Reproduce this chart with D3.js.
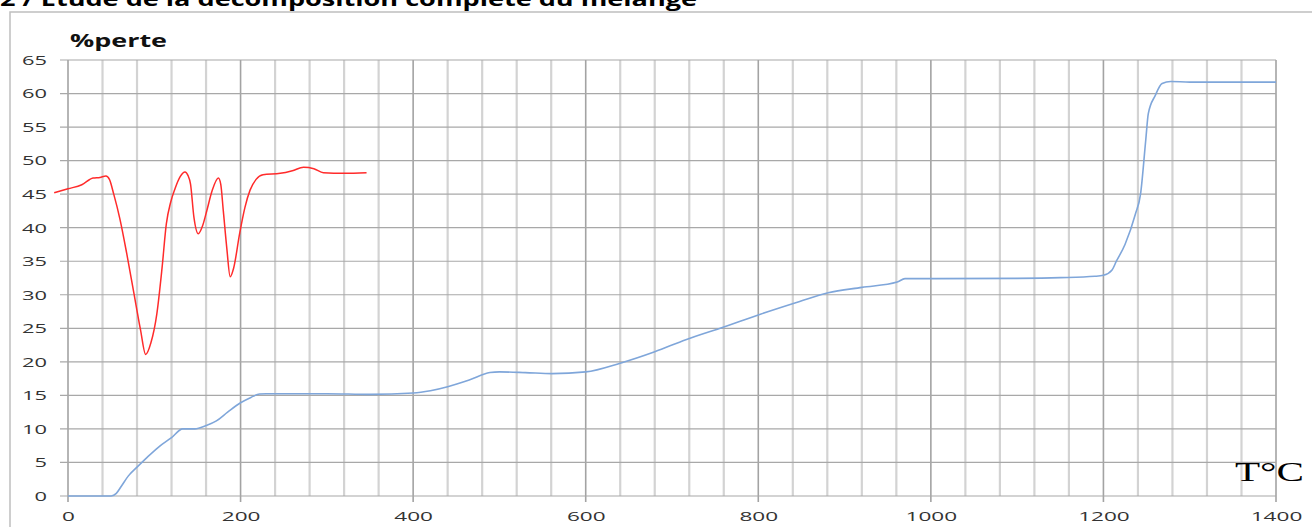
<!DOCTYPE html>
<html>
<head>
<meta charset="utf-8">
<script src="https://cdn.jsdelivr.net/npm/d3@7"></script>
<style>
  html, body { margin: 0; padding: 0; background: #fff; }
  svg { display: block; }
</style>
</head>
<body>
<script>
// ---- Data ----
const titleText = "2 / Etude de la décomposition complète du mélange";
const yLabel = "%perte";
const xLabel = "T°C";
const xTicks = [0, 200, 400, 600, 800, 1000, 1200, 1400];
const yTicks = [0, 5, 10, 15, 20, 25, 30, 35, 40, 45, 50, 55, 60, 65];
const xMinorStep = 40;

// blue: mass loss curve
const blueT = [0, 50, 56, 62, 70, 80, 92, 105, 120, 133, 147, 160, 172, 185, 200, 212, 222, 230, 300, 350, 400, 420, 440, 465, 489, 500, 530, 561, 600, 640, 680, 716, 760, 800, 848, 881, 920, 961, 970, 1000, 1100, 1150, 1190, 1200, 1210, 1215, 1225, 1237, 1243, 1249, 1252, 1260, 1268, 1278, 1300, 1400];
const blueV = [0, 0, 0.4, 1.5, 3.0, 4.3, 5.8, 7.3, 8.7, 10, 10, 10.5, 11.2, 12.5, 13.9, 14.7, 15.2, 15.25, 15.25, 15.15, 15.35, 15.7, 16.3, 17.3, 18.4, 18.5, 18.4, 18.25, 18.5, 19.8, 21.5, 23.3, 25.2, 27.0, 29.0, 30.3, 31.1, 31.9, 32.4, 32.4, 32.45, 32.55, 32.75, 32.9, 33.7, 35, 37.5, 42, 45, 53, 57, 59.7, 61.5, 61.8, 61.7, 61.7];

// red: derivative curve
const redT = [-16, 0, 16, 29, 37, 44, 48, 53, 60, 68, 76, 84, 90, 96, 103, 109, 114, 119, 124, 130, 135.6, 139, 142, 146, 151, 156, 161, 167, 174.3, 177, 180, 184, 188, 192, 199, 205, 211, 218, 226, 246, 260, 273, 285, 296, 320, 346];
const redV = [45.2, 45.8, 46.4, 47.4, 47.5, 47.7, 47.2, 45.0, 41.4, 36.2, 30.5, 24.8, 21.1, 22.8, 27.2, 34, 40.6, 43.8, 45.8, 47.6, 48.3, 47.8, 46.5, 41.5, 39.1, 40.3, 42.6, 45.5, 47.4, 46.5, 42.5, 37, 32.7, 34, 39.2, 43, 45.6, 47.2, 47.9, 48.1, 48.5, 49.0, 48.8, 48.2, 48.1, 48.2];

// ---- Chart ----
const W = 1312, H = 527;
const svg = d3.select("body").append("svg").attr("width", W).attr("height", H);

const x = d3.scaleLinear().domain([0, 1400]).range([68, 1276]);
const y = d3.scaleLinear().domain([0, 65]).range([496, 60]);

const font = "'Open Sans', 'Liberation Sans', sans-serif";

// title (cut off at top, as in the reference)
svg.append("text")
  .attr("x", 0).attr("y", 6)
  .attr("font-family", font).attr("font-weight", "bold").attr("font-size", 19)
  .attr("textLength", 697).attr("lengthAdjust", "spacingAndGlyphs")
  .attr("fill", "#000").text(titleText);

// outer frame
svg.append("rect")
  .attr("x", 10).attr("y", 12).attr("width", 1320).attr("height", 600)
  .attr("fill", "none").attr("stroke", "#bfbfbf").attr("stroke-width", 1.5);

// vertical gridlines
const xs = d3.range(0, 1401, xMinorStep);
svg.append("g").selectAll("line").data(xs.filter(v => v % 200 !== 0)).join("line")
  .attr("x1", d => x(d)).attr("x2", d => x(d))
  .attr("y1", y(65)).attr("y2", y(0))
  .attr("stroke", "#d3d3d3").attr("stroke-width", 2.2);
svg.append("g").selectAll("line").data(xTicks).join("line")
  .attr("x1", d => x(d)).attr("x2", d => x(d))
  .attr("y1", y(65)).attr("y2", y(0) + 6)
  .attr("stroke", "#a3a3a3").attr("stroke-width", 1.6);

// horizontal gridlines
svg.append("g").selectAll("line").data(yTicks).join("line")
  .attr("x1", x(0) - 8).attr("x2", x(1400))
  .attr("y1", d => y(d)).attr("y2", d => y(d))
  .attr("stroke", "#a8a8a8").attr("stroke-width", 1.2);

// y axis labels
const yAxis = svg.append("g").attr("transform", `translate(${x(0) - 8},0)`)
  .call(d3.axisLeft(y).tickValues(yTicks).tickFormat(d3.format("d")).tickSize(0).tickPadding(13));
yAxis.select(".domain").remove();
yAxis.selectAll("text")
  .attr("font-family", font).attr("font-size", 12).attr("fill", "#333")
  .attr("dy", "0.36em")
  .attr("textLength", d => String(d).length * 12.5)
  .attr("lengthAdjust", "spacingAndGlyphs");

// x axis labels
const xAxis = svg.append("g").attr("transform", `translate(0,${y(0)})`)
  .call(d3.axisBottom(x).tickValues(xTicks).tickFormat(d3.format("d")).tickSize(0).tickPadding(16));
xAxis.select(".domain").remove();
xAxis.selectAll("text")
  .attr("font-family", font).attr("font-size", 12).attr("fill", "#333")
  .attr("dy", "0.71em")
  .attr("textLength", d => String(d).length * 12.9)
  .attr("lengthAdjust", "spacingAndGlyphs");

// lines
const blueData = blueT.map((t, i) => [t, blueV[i]]);
const redData = redT.map((t, i) => [t, redV[i]]);
const line = d3.line().x(d => x(d[0])).y(d => y(d[1])).curve(d3.curveMonotoneX);

svg.append("path").datum(blueData).attr("d", line)
  .attr("fill", "none").attr("stroke", "#7fa6da").attr("stroke-width", 1.6);
svg.append("path").datum(redData).attr("d", line)
  .attr("fill", "none").attr("stroke", "#ff2b2b").attr("stroke-width", 1.5);

// axis titles
svg.append("text")
  .attr("x", 70).attr("y", 47)
  .attr("font-family", font).attr("font-weight", "bold").attr("font-size", 17)
  .attr("textLength", 97).attr("lengthAdjust", "spacingAndGlyphs")
  .attr("fill", "#111").text(yLabel);

svg.append("text")
  .attr("x", 1235).attr("y", 481)
  .attr("font-family", "'Liberation Serif', 'DejaVu Serif', serif").attr("font-size", 28)
  .attr("textLength", 69).attr("lengthAdjust", "spacingAndGlyphs")
  .attr("fill", "#000").text(xLabel);
</script>
</body>
</html>
